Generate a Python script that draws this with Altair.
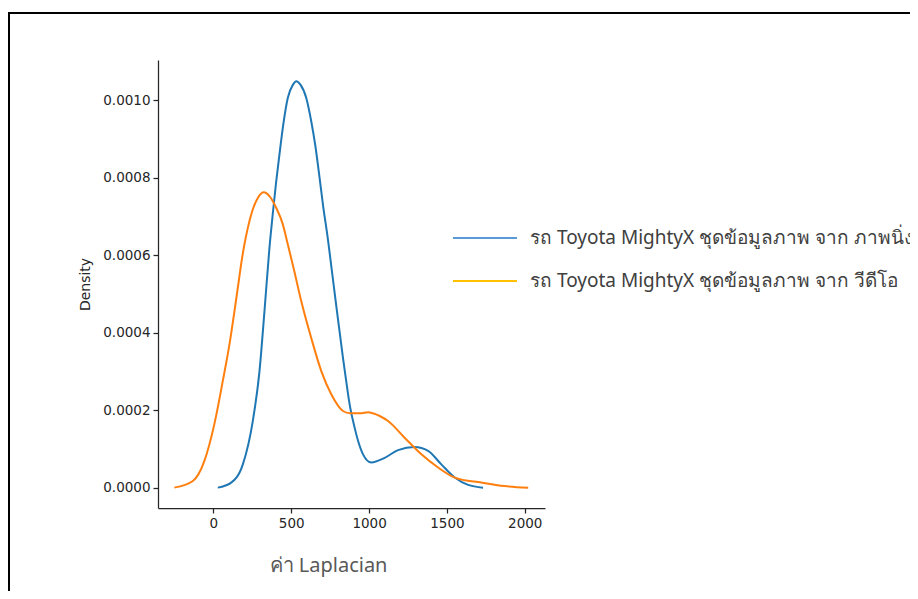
import altair as alt
import pandas as pd

# ---- data (density values in units of 1e-4) ----
blue_x = [28, 114, 189, 253, 296, 328, 360, 382, 403, 424, 446, 478, 511, 532, 559,
          596, 628, 654, 682, 704, 736, 761, 789, 832, 853, 875, 907, 929, 961, 1014,
          1100, 1186, 1293, 1379, 1464, 1550, 1636, 1732]
blue_y = [0.0, 0.13, 0.60, 1.72, 3.01, 4.56, 6.20, 7.10, 7.90, 8.60, 9.30, 10.07, 10.41,
          10.50, 10.41, 10.07, 9.47, 8.85, 8.00, 7.30, 6.40, 5.60, 4.70, 3.36, 2.75,
          2.15, 1.55, 1.21, 0.86, 0.65, 0.77, 0.97, 1.05, 0.95, 0.60, 0.26, 0.07, 0.0]

orange_x = [-251, -132, -58, 6, 60, 103, 146, 163, 178, 199, 221, 249, 286, 324, 360,
            403, 446, 468, 519, 564, 628, 693, 757, 832, 880, 940, 995, 1040, 1068,
            1122, 1228, 1336, 1443, 1550, 1722, 1871, 2022]
orange_y = [0.0, 0.17, 0.69, 1.64, 2.75, 3.70, 4.86, 5.34, 5.77, 6.28, 6.71, 7.14, 7.49,
            7.63, 7.53, 7.23, 6.80, 6.45, 5.60, 4.82, 3.87, 3.01, 2.41, 1.98, 1.92, 1.92,
            1.95, 1.90, 1.85, 1.72, 1.29, 0.86, 0.52, 0.26, 0.13, 0.04, 0.0]

series_names = ["ภาพนิ่ง", "วีดีโอ"]
series_colors = ["#1f77b4", "#ff7f0e"]
legend_labels = ["รถ Toyota MightyX ชุดข้อมูลภาพ จาก ภาพนิ่ง",
                 "รถ Toyota MightyX ชุดข้อมูลภาพ จาก วีดีโอ"]
legend_colors = ["#5B9BD5", "#FFC000"]
x_ticks = [0, 500, 1000, 1500, 2000]
y_ticks = [0.0, 0.0002, 0.0004, 0.0006, 0.0008, 0.0010]

rows = []
for xs, ys, name in [(blue_x, blue_y, series_names[0]), (orange_x, orange_y, series_names[1])]:
    for i, (a, b) in enumerate(zip(xs, ys)):
        rows.append({"value": a, "density": b * 1e-4, "series": name, "order": i})
df = pd.DataFrame(rows)

TICK_FONT = "DejaVu Sans"
THAI_FONT = "Noto Sans"

lines = alt.Chart(df).mark_line(strokeWidth=2, interpolate="monotone").encode(
    x=alt.X("value:Q",
            scale=alt.Scale(domain=[-356, 2130], nice=False, zero=False),
            axis=alt.Axis(values=x_ticks, title="ค่า Laplacian", format="d",
                          titleX=170, titleY=57, titleBaseline="middle",
                          titleAlign="center", titleFont=THAI_FONT, titleFontSize=20,
                          titleFontWeight="normal", titleColor="#595959")),
    y=alt.Y("density:Q",
            scale=alt.Scale(domain=[-0.0000526, 0.0011046], nice=False, zero=False),
            axis=alt.Axis(values=y_ticks, format=".4f", title="Density",
                          titleX=-73, titleY=224, titleAngle=270,
                          titleBaseline="middle", titleAlign="center",
                          titleFont=TICK_FONT, titleFontSize=14,
                          titleFontWeight="normal", titleColor="#262626")),
    color=alt.Color("series:N",
                    scale=alt.Scale(domain=series_names, range=series_colors),
                    legend=None),
    order="order:Q",
)

layers = [lines]

# manual legend (drawn like the reference, with its own colours)
LEG_Y0 = 178
LEG_DY = 43
for i, (lab, col) in enumerate(zip(legend_labels, legend_colors)):
    one = pd.DataFrame({"label": [lab]})
    yy = LEG_Y0 + i * LEG_DY
    layers.append(alt.Chart(one).mark_rule(color=col, strokeWidth=2).encode(
        x=alt.value(295), x2=alt.value(359), y=alt.value(yy)))
    layers.append(alt.Chart(one).mark_text(
        align="left", baseline="middle", font=THAI_FONT, fontSize=19,
        color="#404040").encode(text="label:N", x=alt.value(372), y=alt.value(yy)))

# outer frame
frame = alt.Chart(pd.DataFrame({"f": [0]})).mark_rect(
    fillOpacity=0, stroke="black", strokeWidth=2).encode(
    x=alt.value(-149), x2=alt.value(800), y=alt.value(-47), y2=alt.value(580))
layers.append(frame)

chart = alt.layer(*layers).properties(
    width=387, height=448,
    autosize=alt.AutoSizeParams(type="none"),
    padding={"left": 150, "top": 52, "right": 365, "bottom": 83},
).configure(background="white").configure_view(stroke=None).configure_axis(
    grid=False, domainColor="#262626", domainWidth=1.25, tickColor="#262626",
    tickSize=5, tickWidth=1.25, labelFont=TICK_FONT, labelFontSize=13.5,
    labelColor="#262626", labelPadding=3,
)

chart.save("out.html", embed_options={"renderer": "svg", "actions": False})
